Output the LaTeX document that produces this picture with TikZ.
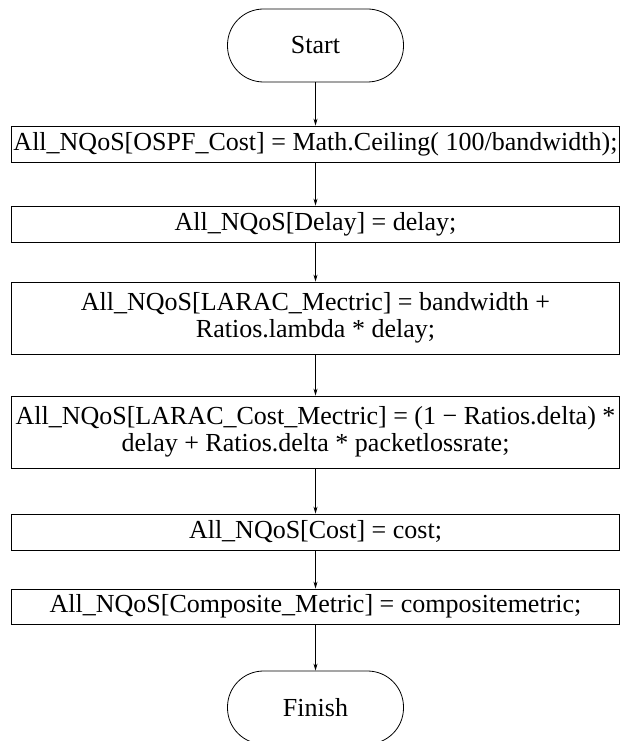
\documentclass[tikz,border=0pt]{standalone}
\usepackage{fontspec}
\setmainfont{Liberation Serif}
\usepackage{tikz}
\usetikzlibrary{positioning,arrows.meta}
\tikzset{terminal/.style={draw, line width=0.8pt, rounded corners=36pt, minimum width=176pt, minimum height=73pt, font=\fontsize{26}{27.5}\selectfont}}
\tikzset{process/.style={draw, line width=0.8pt, minimum width=608pt, inner sep=0pt, align=center, font=\fontsize{26}{27.5}\selectfont}}
\tikzset{arr/.style={draw, line width=0.8pt, -{Stealth[length=7pt,width=4pt]}}}

\begin{document}
\begin{tikzpicture}[x=1pt,y=-1pt]
    \useasboundingbox (0,0) rectangle (621,741);
    \node[terminal] (start) at (315.5, 45.5) {Start};
    \node[process, minimum height=36pt] (ospf) at (315.5, 144) {All\_NQoS[OSPF\_Cost] = Math.Ceiling( 100/bandwidth);};
    \node[process, minimum height=36pt] (delay) at (315.5, 224) {All\_NQoS[Delay] = delay;};
    \node[process, minimum height=72pt] (larac) at (315.5, 318) {All\_NQoS[LARAC\_Mectric] = bandwidth +\\ Ratios.lambda * delay;};
    \node[process, minimum height=72pt] (laraccost) at (315.5, 432) {All\_NQoS[LARAC\_Cost\_Mectric] = (1 − Ratios.delta) *\\ delay + Ratios.delta * packetlossrate;};
    \node[process, minimum height=36pt] (cost) at (315.5, 532) {All\_NQoS[Cost] = cost;};
    \node[process, minimum height=35pt] (composite) at (315.5, 606.5) {All\_NQoS[Composite\_Metric] = compositemetric;};
    \node[terminal] (finish) at (315.5, 707.5) {Finish};

    % connectors
    \draw[arr] (start) -- (ospf);
    \draw[arr] (ospf) -- (delay);
    \draw[arr] (delay) -- (larac);
    \draw[arr] (larac) -- (laraccost);
    \draw[arr] (laraccost) -- (cost);
    \draw[arr] (cost) -- (composite);
    \draw[arr] (composite) -- (finish);
\end{tikzpicture}
\end{document}
